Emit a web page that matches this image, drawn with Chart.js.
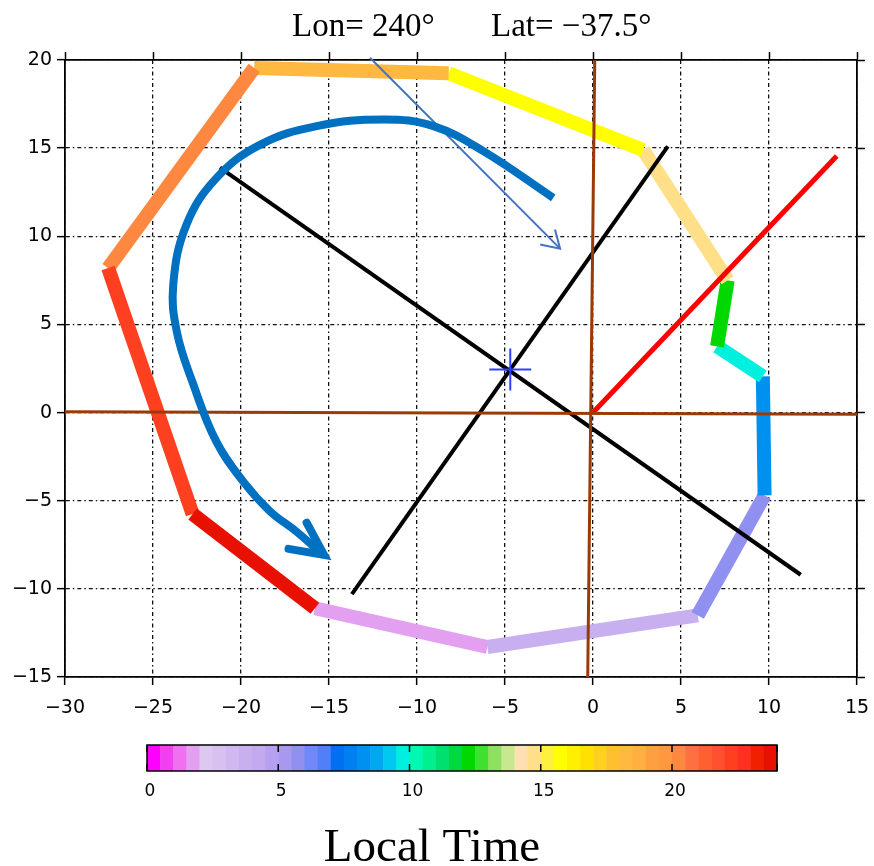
<!DOCTYPE html>
<html>
<head>
<meta charset="utf-8">
<title>Lon 240 Lat -37.5</title>
<script src="https://cdn.jsdelivr.net/npm/chart.js@4.4.0/dist/chart.umd.min.js"></script>
<style>
  body { margin: 0; background: #fff; }
</style>
</head>
<body>
<canvas id="myChart" width="874" height="866"></canvas>
<script>
// hourly track, one vertex per coloured segment start (closed loop)
const pathX = [-15.8, -6.0, 5.95, 9.75, 9.65, 7.05, 7.65, 2.85, -8.2, -19.25, -27.55, -22.75];
const pathY = [-11.1, -13.3, -11.5, -4.7, 2.05, 3.75, 7.5, 14.9, 19.25, 19.55, 8.2, -5.75];
// local time of each segment (picks its colour from the colour bar)
const segLT = [1.75, 3.75, 5.75, 8.25, 9.75, 12.25, 14.75, 15.75, 18.25, 20.25, 22.25, 23.75];

// colour bar, half-hour cells from 0 to 24
const ltColors = [
  '#ff00ff', '#f040f0', '#f070f0', '#e4a0f0', '#dcc8f0', '#d8c0f0', '#d0b8f0', '#c8b0f0',
  '#c4a8f0', '#b8a0f0', '#a898f0', '#9090f0', '#7088f8', '#5080f8', '#0070f0', '#0080f0',
  '#0090f0', '#00a8f0', '#00c8f0', '#00f0e0', '#00f8b0', '#00f090', '#00e070', '#00d840',
  '#00d800', '#40e030', '#90e060', '#c8e890', '#ffe0b0', '#ffe088', '#fff040', '#ffff00',
  '#fff000', '#ffe000', '#ffd020', '#ffc030', '#ffb840', '#ffb040', '#ffa040', '#ff9840',
  '#ff8840', '#ff7040', '#ff6030', '#ff5030', '#ff4020', '#ff3020', '#f02000', '#e81000'
];
const ltTicks = [0, 5, 10, 15, 20];

// straight lines drawn on the map
const blackAX = [-21.2, 11.8],  blackAY = [13.9, -9.2];
const blackBX = [-13.7, 4.25],  blackBY = [-10.3, 15.1];
const redX = [0, 13.85],        redY = [0, 14.55];
const brownVX = [0.1, -0.3],    brownVY = [20, -15];
const brownHX = [-30, 15],      brownHY = [0.05, -0.1];
const centerX = [-4.7],         centerY = [2.45];

// hand-drawn rotation arrow
const curveX = [-2.26, -6.23, -9.07, -11.9, -15.7, -18.9, -21.4, -23.1, -23.85, -23.65, -22.7, -21.4, -19.87, -18.35, -16.84, -15.42];
const curveY = [12.18, 14.83, 16.25, 16.63, 16.25, 15.2, 13.3, 10.66, 7.25, 4.6, 1.57, -1.65, -3.92, -5.6, -6.76, -8.0];
const curveHeadX = [-16.27, -15.28, -17.3];
const curveHeadY = [-6.25, -8.07, -7.73];
// thin arrow
const thinX = [-12.67, -1.87],  thinY = [20.13, 9.3];
const thinHeadX = [-3.0, -1.87, -2.16];
const thinHeadY = [9.53, 9.3, 10.38];

function pts(xs, ys) {
  return xs.map((x, i) => ({ x: x, y: ys[i] }));
}
function ltColor(t) {
  return ltColors[Math.min(47, Math.floor(t * 2))];
}
function minus(v) {
  return String(v).replace('-', '\u2212');
}

const loop = pts(pathX, pathY);
loop.push({ x: pathX[0], y: pathY[0] });

function line(data, color, width, order, extra) {
  return Object.assign({
    data: data, showLine: true, borderColor: color, borderWidth: width,
    pointRadius: 0, fill: false, order: order
  }, extra || {});
}

const datasets = [
  line(pts(curveX, curveY), '#0070c0', 8, 0, { tension: 0.4, borderCapStyle: 'butt' }),
  line(pts(curveHeadX, curveHeadY), '#0070c0', 8, 0, { borderJoinStyle: 'miter', borderCapStyle: 'round' }),
  line(pts(thinX, thinY), '#4472c4', 2, 0, { clip: false }),
  line(pts(thinHeadX, thinHeadY), '#4472c4', 2, 0),
  {
    data: pts(centerX, centerY), showLine: false, pointStyle: 'cross',
    pointRadius: 21, borderColor: '#3040ff', borderWidth: 2, order: 1
  },
  line(pts(brownVX, brownVY), '#9a3a08', 3, 2),
  line(pts(brownHX, brownHY), '#9a3a08', 3, 2),
  line(pts(blackAX, blackAY), '#000', 4, 3),
  line(pts(blackBX, blackBY), '#000', 4, 3),
  line(pts(redX, redY), '#ff0000', 5, 3),
  line(loop, '#000', 14, 5, {
    borderCapStyle: 'butt', borderJoinStyle: 'miter',
    segment: { borderColor: ctx => ltColor(segLT[ctx.p0DataIndex]) }
  })
];

const tickFont = { family: 'DejaVu Sans', size: 19 };
const gridLines = {
  color: '#111', lineWidth: 1.3, tickColor: '#000', tickWidth: 1.5, tickLength: 8
};
const border = { display: true, color: '#000', width: 1.8, dash: [4, 3, 1.5, 3] };

function sideAxis(pos, min, max, size) {
  return {
    type: 'linear', position: pos, min: min, max: max,
    ticks: { display: false, stepSize: 5 },
    grid: { drawOnChartArea: false, tickColor: '#000', tickWidth: 1.5, tickLength: 8 },
    border: { display: true, color: '#000', width: 1.8 },
    afterFit: s => {
      if (s.isHorizontal()) s.height = size; else s.width = size;
      s.paddingLeft = s.paddingRight = s.paddingTop = s.paddingBottom = 0;
    }
  };
}

const bgPlugin = {
  id: 'extras',
  afterDraw(chart) {
    const ctx = chart.ctx;
    ctx.save();
    // title
    ctx.fillStyle = '#000';
    ctx.font = '33px "Liberation Serif"';
    ctx.textBaseline = 'alphabetic';
    ctx.textAlign = 'left';
    ctx.fillText('Lon= 240\u00b0', 292, 36);
    ctx.fillText('Lat= \u221237.5\u00b0', 491, 36);

    // colour bar
    const bx = 147, bw = 630, by = 745, bh = 26;
    const cw = bw / ltColors.length;
    ltColors.forEach((c, i) => {
      ctx.fillStyle = c;
      ctx.fillRect(bx + i * cw, by, cw + 0.5, bh);
    });
    ctx.strokeStyle = '#000';
    ctx.lineWidth = 1.5;
    ctx.strokeRect(bx, by, bw, bh);
    ctx.font = '17px "DejaVu Sans"';
    ctx.textAlign = 'center';
    ctx.textBaseline = 'top';
    ctx.fillStyle = '#000';
    ltTicks.concat([24]).forEach(t => {
      const x = bx + t / 24 * bw;
      ctx.beginPath();
      ctx.moveTo(x, by); ctx.lineTo(x, by + 7);
      ctx.moveTo(x, by + bh); ctx.lineTo(x, by + bh - 7);
      ctx.stroke();
    });
    ltTicks.forEach(t => {
      ctx.fillText(String(t), bx + t / 24 * bw + 3, by + bh + 12);
    });

    // axis caption
    ctx.font = '47px "Liberation Serif"';
    ctx.textBaseline = 'alphabetic';
    ctx.fillText('Local Time', 432, 861);
    ctx.restore();
  }
};

new Chart(document.getElementById('myChart'), {
  type: 'scatter',
  data: { datasets: datasets },
  options: {
    responsive: false,
    animation: false,
    events: [],
    layout: { padding: 0, autoPadding: false },
    plugins: { legend: { display: false }, tooltip: { enabled: false }, title: { display: false } },
    scales: {
      x: {
        type: 'linear', position: 'bottom', min: -30, max: 15,
        ticks: { stepSize: 5, font: tickFont, color: '#000', padding: 12, maxRotation: 0, callback: v => minus(v) },
        grid: gridLines, border: border,
        afterFit: s => { s.height = 189; s.paddingLeft = 0; s.paddingRight = 0; }
      },
      y: {
        type: 'linear', position: 'left', min: -15, max: 20,
        ticks: { stepSize: 5, font: tickFont, color: '#000', padding: 5, callback: v => minus(v) },
        grid: gridLines, border: border,
        afterFit: s => { s.width = 65; s.paddingTop = 0; s.paddingBottom = 0; }
      },
      x2: sideAxis('top', -30, 15, 60),
      y2: sideAxis('right', -15, 20, 17)
    }
  },
  plugins: [bgPlugin]
});
</script>
</body>
</html>
